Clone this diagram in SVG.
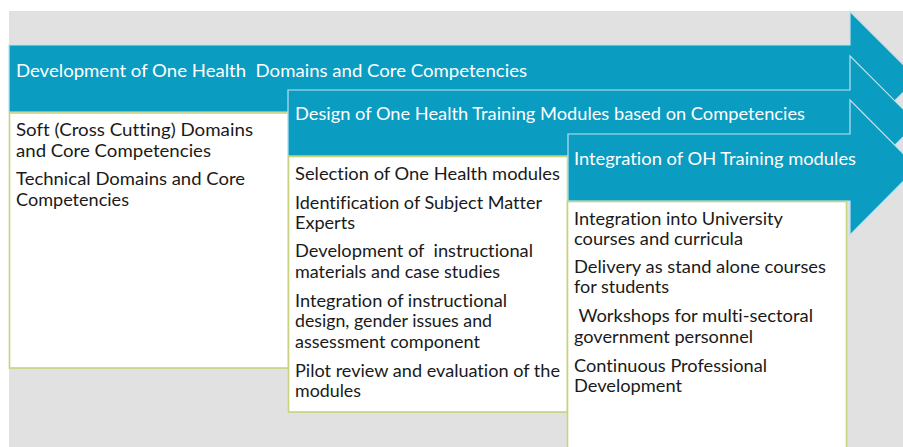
<svg xmlns="http://www.w3.org/2000/svg" width="903" height="447" viewBox="0 0 903 447">
  <style>
    .arrow { fill: #0a9cc1; stroke: #b9e3ee; stroke-width: 1.2; }
    .box { fill: #ffffff; stroke: #c9d37f; stroke-width: 1.6; }
    .title { font-family: Lato, "Open Sans", sans-serif; font-size: 18px; fill: #ffffff; white-space: pre; font-variant-ligatures: none; }
    .item { font-family: Lato, "Open Sans", sans-serif; font-size: 17.5px; fill: #1a1a1a; white-space: pre; font-variant-ligatures: none; }
  </style>

  <!-- backdrop -->
  <rect x="9" y="11" width="894" height="436" fill="#e1e1e1"/>

  <!-- stage 1: domains and competencies -->
  <g id="stage1">
    <path class="arrow" d="M9,45 H850 V11.5 L917,78.5 L850,145.5 V112 H9 Z"/>
    <text class="title" x="16" y="77" textLength="511" lengthAdjust="spacingAndGlyphs" xml:space="preserve">Development of One Health  Domains and Core Competencies</text>
  </g>
  <g id="stage1-tasks">
    <rect class="box" x="9.5" y="113" width="279" height="255"/>
    <text class="item" x="16" y="136" textLength="237" lengthAdjust="spacingAndGlyphs">Soft (Cross Cutting) Domains</text>
    <text class="item" x="16" y="157" textLength="195" lengthAdjust="spacingAndGlyphs">and Core Competencies</text>
    <text class="item" x="16" y="185" textLength="229" lengthAdjust="spacingAndGlyphs">Technical Domains and Core</text>
    <text class="item" x="16" y="206" textLength="113" lengthAdjust="spacingAndGlyphs">Competencies</text>
  </g>

  <!-- stage 2: module design -->
  <g id="stage2">
    <path class="arrow" d="M288,90 H850 V56 L917,123 L850,190 V156 H288 Z"/>
    <text class="title" x="295" y="120" textLength="510" lengthAdjust="spacingAndGlyphs">Design of One Health Training Modules based on Competencies</text>
  </g>
  <g id="stage2-tasks">
    <rect class="box" x="288.5" y="156.5" width="279" height="255.5"/>
    <text class="item" x="295" y="180" textLength="265" lengthAdjust="spacingAndGlyphs">Selection of One Health modules</text>
    <text class="item" x="295" y="209" textLength="247" lengthAdjust="spacingAndGlyphs">Identification of Subject Matter</text>
    <text class="item" x="295" y="229" textLength="60" lengthAdjust="spacingAndGlyphs">Experts</text>
    <text class="item" x="295" y="257" textLength="238" lengthAdjust="spacingAndGlyphs" xml:space="preserve">Development of  instructional</text>
    <text class="item" x="295" y="278" textLength="205" lengthAdjust="spacingAndGlyphs">materials and case studies</text>
    <text class="item" x="295" y="307" textLength="212" lengthAdjust="spacingAndGlyphs">Integration of instructional</text>
    <text class="item" x="295" y="327" textLength="197" lengthAdjust="spacingAndGlyphs">design, gender issues and</text>
    <text class="item" x="295" y="348" textLength="185" lengthAdjust="spacingAndGlyphs">assessment component</text>
    <text class="item" x="295" y="377" textLength="265" lengthAdjust="spacingAndGlyphs">Pilot review and evaluation of the</text>
    <text class="item" x="295" y="397" textLength="66" lengthAdjust="spacingAndGlyphs">modules</text>
  </g>

  <!-- stage 3: integration -->
  <g id="stage3">
    <path class="arrow" d="M568,134 H850 V100 L917,167.5 L850,235 V201 H568 Z"/>
    <text class="title" x="574" y="165" textLength="282" lengthAdjust="spacingAndGlyphs">Integration of OH Training modules</text>
  </g>
  <g id="stage3-tasks">
    <rect class="box" x="567.5" y="201.5" width="279" height="260"/>
    <text class="item" x="574" y="225" textLength="209" lengthAdjust="spacingAndGlyphs">Integration into University</text>
    <text class="item" x="574" y="245" textLength="169" lengthAdjust="spacingAndGlyphs">courses and curricula</text>
    <text class="item" x="574" y="273" textLength="252" lengthAdjust="spacingAndGlyphs">Delivery as stand alone courses</text>
    <text class="item" x="574" y="293" textLength="95" lengthAdjust="spacingAndGlyphs">for students</text>
    <text class="item" x="574" y="322" textLength="239" lengthAdjust="spacingAndGlyphs" xml:space="preserve"> Workshops for multi-sectoral</text>
    <text class="item" x="574" y="343" textLength="179" lengthAdjust="spacingAndGlyphs">government personnel</text>
    <text class="item" x="574" y="372" textLength="193" lengthAdjust="spacingAndGlyphs">Continuous Professional</text>
    <text class="item" x="574" y="392" textLength="108" lengthAdjust="spacingAndGlyphs">Development</text>
  </g>
</svg>
